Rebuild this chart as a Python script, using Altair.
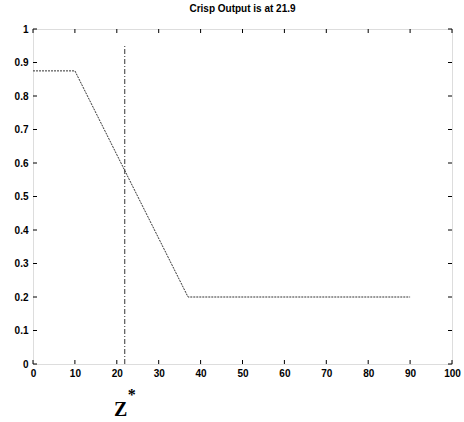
import altair as alt
import pandas as pd

# membership curve (aggregated output)
curve_x = [0, 10, 37, 90]
curve_y = [0.875, 0.875, 0.2, 0.2]
crisp_value = 21.9
crisp_top = 0.95
x_ticks = [0, 10, 20, 30, 40, 50, 60, 70, 80, 90, 100]
y_ticks = [0, 0.1, 0.2, 0.3, 0.4, 0.5, 0.6, 0.7, 0.8, 0.9, 1]

W, H = 419, 335
FONT = "Liberation Sans"

curve = pd.DataFrame({"x": curve_x, "y": curve_y})
crisp = pd.DataFrame({"x": [crisp_value, crisp_value], "y": [0, crisp_top]})
xt = pd.DataFrame({"x": x_ticks})
yt = pd.DataFrame({"y": y_ticks})

xs = alt.Scale(domain=[0, 100], nice=False)
ys = alt.Scale(domain=[0, 1], nice=False)

xaxis = alt.Axis(values=x_ticks, format="d", ticks=False, domain=False, grid=False,
                 labelFont=FONT, labelFontSize=10, labelFontWeight="bold",
                 labelColor="black", labelPadding=4, title=None, labelFlush=False,
                 labelOverlap=False)
yaxis = alt.Axis(values=y_ticks, format="~g", ticks=False, domain=False, grid=False,
                 labelFont=FONT, labelFontSize=10, labelFontWeight="bold",
                 labelColor="black", labelPadding=5, title=None, labelOverlap=False,
                 labelFlush=False)


def X(field):
    return alt.X(field, scale=xs, axis=xaxis)


def Y(field):
    return alt.Y(field, scale=ys, axis=yaxis)


line = alt.Chart(curve).mark_line(color="#333333", strokeWidth=1, strokeDash=[2, 1]).encode(
    x=X("x:Q"), y=Y("y:Q"))

vline = alt.Chart(crisp).mark_line(color="#333333", strokeWidth=1, strokeDash=[5, 2, 1, 2]).encode(
    x=X("x:Q"), y=Y("y:Q"))

xtick_b = alt.Chart(xt).mark_rule(color="black", strokeWidth=1).encode(
    x=X("x:Q"), y=alt.value(H), y2=alt.value(H - 4))
xtick_t = alt.Chart(xt).mark_rule(color="black", strokeWidth=1).encode(
    x=X("x:Q"), y=alt.value(0), y2=alt.value(4))
ytick_l = alt.Chart(yt).mark_rule(color="black", strokeWidth=1).encode(
    y=Y("y:Q"), x=alt.value(0), x2=alt.value(4))
ytick_r = alt.Chart(yt).mark_rule(color="black", strokeWidth=1).encode(
    y=Y("y:Q"), x=alt.value(W), x2=alt.value(W - 4))

zlabel = alt.Chart(pd.DataFrame({"x": [crisp_value], "t": ["Z"]})).mark_text(
    font="Liberation Serif", fontSize=20, fontWeight="bold", color="black",
    align="center", baseline="alphabetic", dx=-4).encode(
    x=X("x:Q"), y=alt.value(H + 52), text="t:N")
star = alt.Chart(pd.DataFrame({"x": [crisp_value], "t": ["*"]})).mark_text(
    font="Liberation Serif", fontSize=16, fontWeight="bold", color="black",
    align="center", baseline="alphabetic", dx=7).encode(
    x=X("x:Q"), y=alt.value(H + 36), text="t:N")

chart = alt.layer(line, vline, xtick_b, xtick_t, ytick_l, ytick_r, zlabel, star).properties(
    width=W, height=H,
    title=alt.TitleParams("Crisp Output is at 21.9", font=FONT, fontSize=10,
                          fontWeight="bold", color="black", offset=10),
    autosize=alt.AutoSizeParams(type="none"),
    padding={"left": 33, "top": 29, "right": 12, "bottom": 58},
).configure_view(stroke="black", strokeWidth=1.2).configure_axis(
    labelOverlap=False).configure(background="white")

chart.save("out.html", embed_options={"renderer": "svg", "actions": False})
